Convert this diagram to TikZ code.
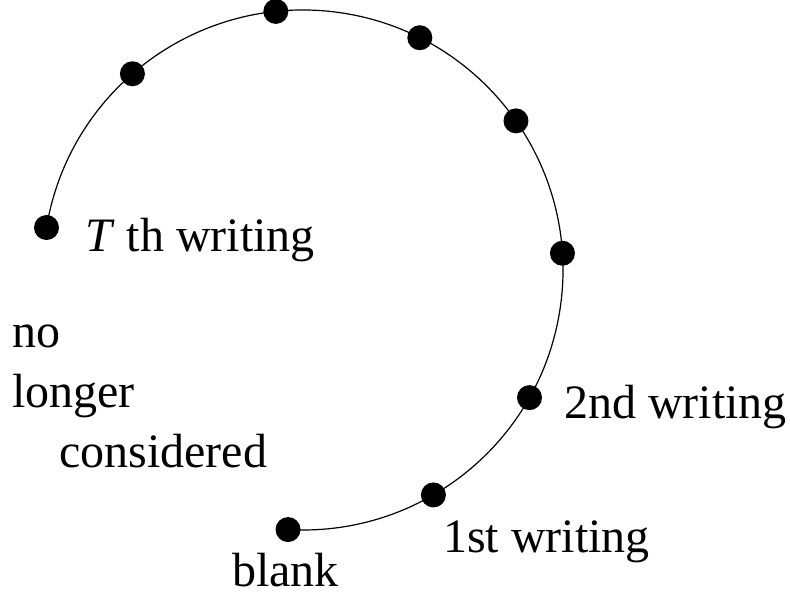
\documentclass[tikz,border=0pt]{standalone}
\usepackage{fontspec}
\setmainfont{Liberation Serif}
\begin{document}
\begin{tikzpicture}[x=1pt,y=1pt,
  dot/.style={circle,fill=black,inner sep=0pt,minimum size=25pt},
  lbl/.style={inner sep=0pt,anchor=base west,font=\fontsize{48}{56}\selectfont},
  curve/.style={line width=1.2pt}]
\useasboundingbox (0,0) rectangle (790,595);
\coordinate (c) at (303,325);
\draw[curve] ([shift={(170.6:260)}]c) arc[start angle=170.6, end angle=-93.3, radius=260];
\node[dot] (d1) at ([shift={(170.6:260)}]c) {};
\node[dot] (d2) at ([shift={(131.0:260)}]c) {};
\node[dot] (d3) at ([shift={(96.0:260)}]c) {};
\node[dot] (d4) at ([shift={(63.3:260)}]c) {};
\node[dot] (d5) at ([shift={(35.0:260)}]c) {};
\node[dot] (d6) at ([shift={(3.7:260)}]c) {};
\node[dot] (d7) at ([shift={(-29.4:260)}]c) {};
\node[dot] (d8) at ([shift={(-59.9:260)}]c) {};
\node[dot] (d9) at ([shift={(-93.3:260)}]c) {};
\node[lbl] (tth) at (85,343) {\textit{T} th writing};
\node[lbl] (second) at (564,176) {2nd writing};
\node[lbl] (first) at (443,43) {1st writing};
\node[lbl] (blank) at (232,9) {blank};
\node[lbl] (no) at (12,247) {no};
\node[lbl] (longer) at (12,187) {longer};
\node[lbl] (consid) at (59,128) {considered};
\end{tikzpicture}
\end{document}
